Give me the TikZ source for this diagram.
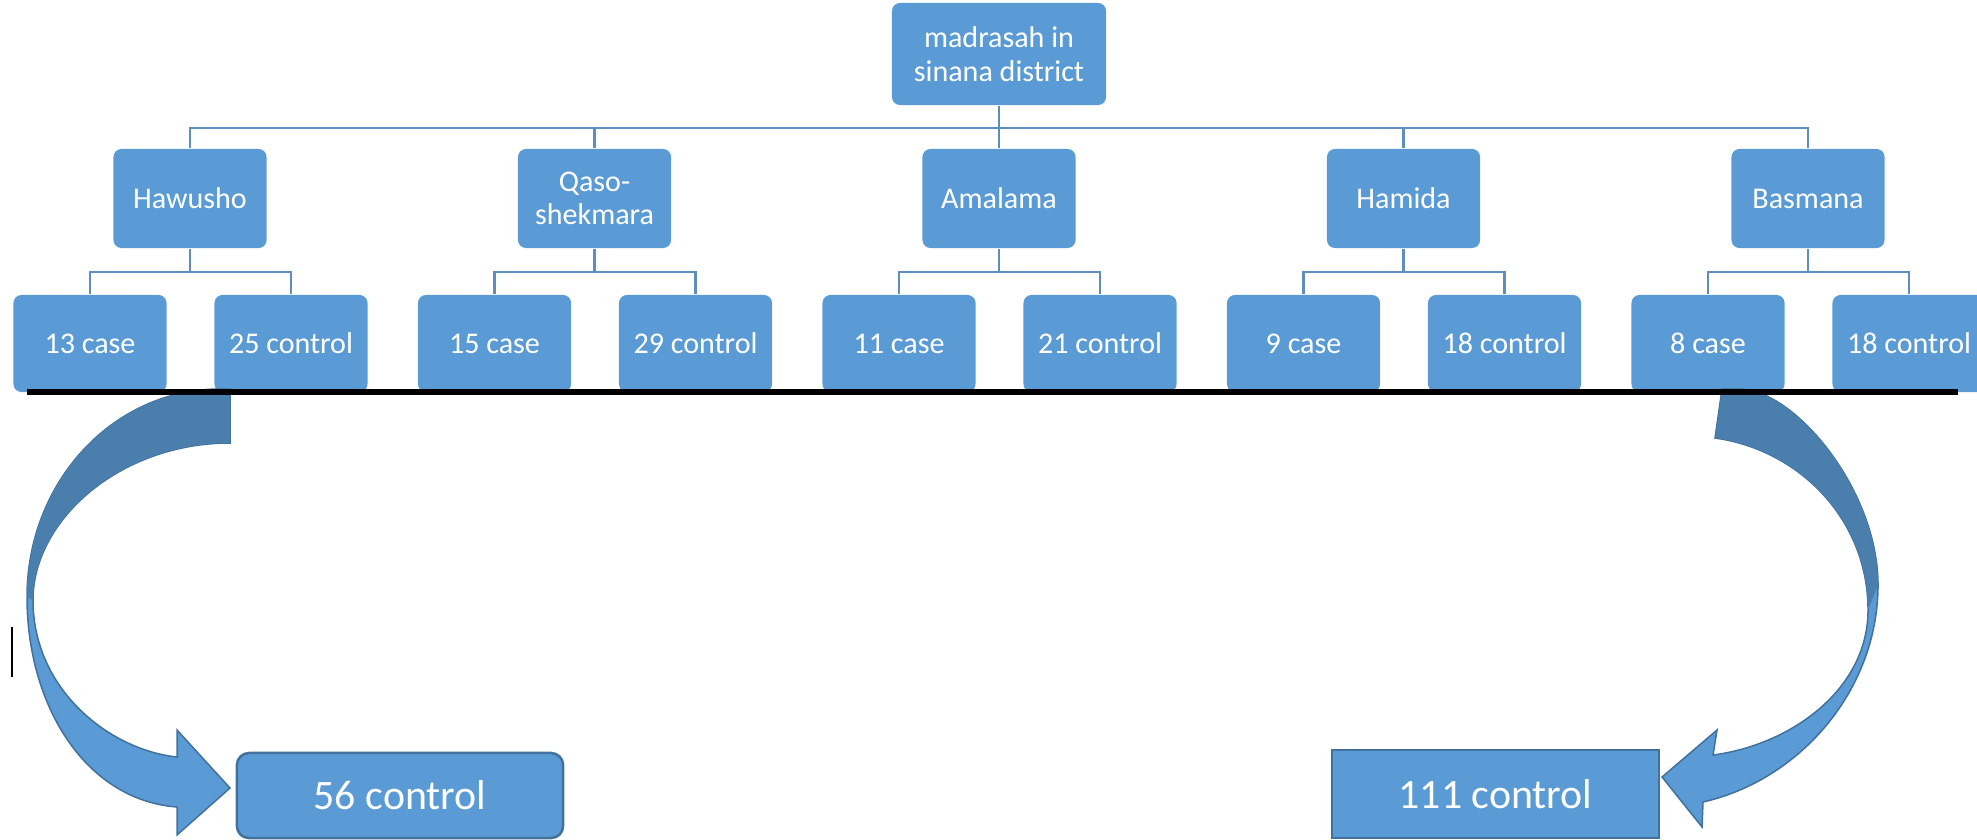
\documentclass[tikz,border=0pt]{standalone}
\usepackage{fontspec}
\setmainfont{Carlito}
\definecolor{boxblue}{HTML}{5B9BD5}
\definecolor{edgeblue}{HTML}{41719C}
\definecolor{darkarrow}{HTML}{4A7EAD}
\definecolor{linkblue}{HTML}{5F8DC0}
\begin{document}
\begin{tikzpicture}[x=0.01cm,y=-0.01cm,
  box/.style={fill=boxblue, rounded corners=0.08cm, text=white, inner sep=0pt,
    minimum width=1.53cm, font=\fontsize{8.55}{9.5}\selectfont, align=center},
  lvlone/.style={box, minimum height=0.99cm},
  lvltwo/.style={box, minimum height=0.97cm},
  link/.style={draw=linkblue, line width=0.025cm},
  sumbox/.style={fill=boxblue, draw=edgeblue, line width=0.025cm, text=white,
    inner sep=0pt, font=\fontsize{11.9}{14}\selectfont},
  lightarrow/.style={fill=boxblue, draw=edgeblue, line width=0.015cm},
  backarrow/.style={fill=darkarrow}]
\useasboundingbox (0,0) rectangle (1977,839);

% root
\node[box, minimum width=2.14cm, minimum height=1.02cm] (root) at (999,54) {madrasah in\\sinana district};

% level one
\node[lvlone] (haw) at (190,198.5) {Hawusho};
\node[lvlone] (qas) at (594.5,198.5) {Qaso-\\shekmara};
\node[lvlone] (ama) at (999,198.5) {Amalama};
\node[lvlone] (ham) at (1403.5,198.5) {Hamida};
\node[lvlone] (bas) at (1808,198.5) {Basmana};

% level two
\node[lvltwo] (haw1) at (90,343.5) {13 case};
\node[lvltwo] (haw2) at (291,343.5) {25 control};
\node[lvltwo] (qas1) at (494.5,343.5) {15 case};
\node[lvltwo] (qas2) at (695.5,343.5) {29 control};
\node[lvltwo] (ama1) at (899,343.5) {11 case};
\node[lvltwo] (ama2) at (1100,343.5) {21 control};
\node[lvltwo] (ham1) at (1303.5,343.5) {9 case};
\node[lvltwo] (ham2) at (1504.5,343.5) {18 control};
\node[lvltwo] (bas1) at (1708,343.5) {8 case};
\node[lvltwo] (bas2) at (1909,343.5) {18 control};

% connectors
\coordinate (bus) at (999,128);
\draw[link] (root) -- (bus);
\foreach \n in {haw,qas,ama,ham,bas}{
  \draw[link] (bus) -| (\n);
}
\foreach \n/\x in {haw/190,qas/594.5,ama/999,ham/1403.5,bas/1808}{
  \coordinate (\n bus) at (\x,272);
  \draw[link] (\n) -- (\n bus);
  \draw[link] (\n bus) -| (\n 1);
  \draw[link] (\n bus) -| (\n 2);
}

% summary boxes
\node[sumbox, rounded corners=0.12cm, minimum width=3.26cm, minimum height=0.85cm] (sum1) at (400,795.5) {56 control};
\node[sumbox, minimum width=3.27cm, minimum height=0.88cm] (sum2) at (1495.5,794) {111 control};

% left curved arrow
\path[lightarrow] (230,389) -- (220,389) .. controls (113,389) and (27,482) .. (27,597)
  .. controls (27,705) and (85,800) .. (177,807) -- (177,835) -- (230,788)
  -- (177,730) -- (177,757) .. controls (110,750) and (33,690) .. (33,600)
  .. controls (33,520) and (120,443) .. (230,443) -- cycle;
\fill[backarrow] (230,389) -- (220,389) .. controls (113,389) and (27,482) .. (27,597)
  -- (33,600) .. controls (33,520) and (120,443) .. (230,443) -- cycle;

% right curved arrow
\path[lightarrow] (1722,389) -- (1740,389) .. controls (1795,390) and (1878,490) .. (1878,585)
  .. controls (1878,690) and (1800,780) .. (1703,802) -- (1702,827) -- (1662,777)
  -- (1717,730) -- (1713,755) .. controls (1790,745) and (1868,690) .. (1868,610)
  .. controls (1868,520) and (1800,450) .. (1715,438) -- cycle;
\fill[backarrow] (1722,389) -- (1740,389) .. controls (1795,390) and (1878,490) .. (1878,585)
  -- (1868,610) .. controls (1868,520) and (1800,450) .. (1715,438) -- cycle;

% black rule
\draw[line width=0.06cm] (27,392) -- (1958,392);
% small mark
\draw[line width=0.02cm] (12,627) -- (12,677);
\end{tikzpicture}
\end{document}
